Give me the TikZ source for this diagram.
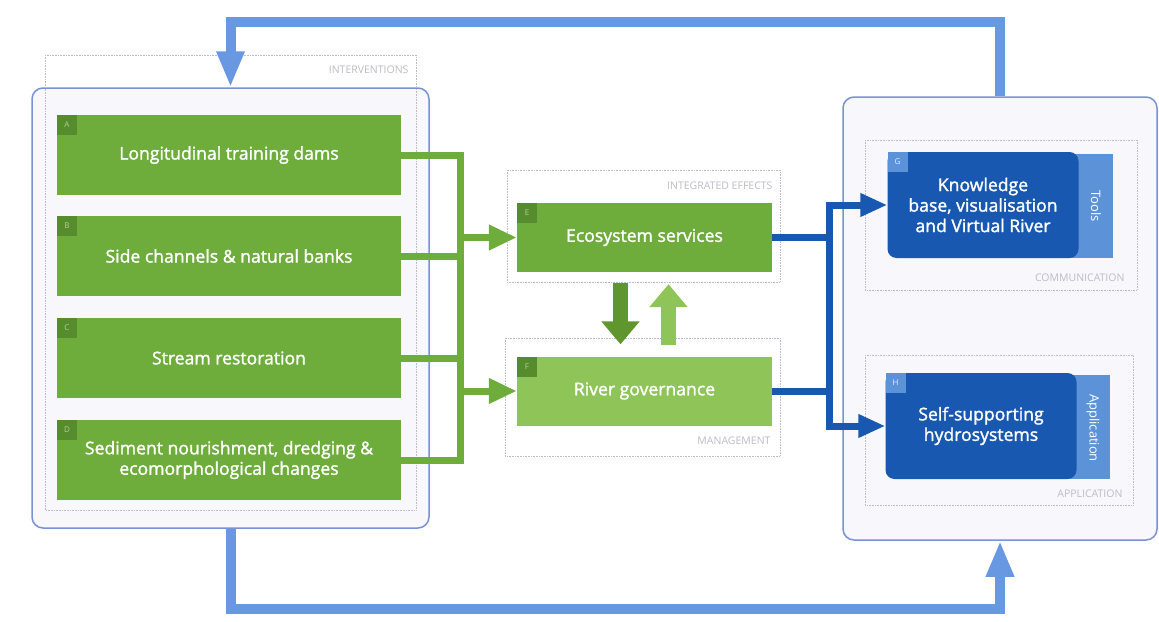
\documentclass[tikz,border=0pt]{standalone}
\usepackage{fontspec}
\setmainfont{Open Sans}
\newfontfamily\medfont{Open Sans}[FakeBold=1.6]
\usetikzlibrary{arrows.meta,positioning}
\definecolor{boxgreen}{RGB}{110,172,60}
\definecolor{lightgreen}{RGB}{142,196,88}
\definecolor{badgegreen}{RGB}{86,140,46}
\definecolor{darkgreen}{RGB}{96,150,46}
\definecolor{deepblue}{RGB}{24,88,176}
\definecolor{tabblue}{RGB}{92,146,216}
\definecolor{loopblue}{RGB}{104,152,226}
\definecolor{frameblue}{RGB}{120,146,214}
\definecolor{framefill}{RGB}{247,247,252}
\definecolor{faint}{RGB}{188,188,196}
\begin{document}
\begin{tikzpicture}[x=1pt,y=-1pt,line join=round,font=\medfont\fontsize{17.6}{20.5}\selectfont,
	greenbox/.style={fill=boxgreen,text=white,minimum width=344pt,minimum height=80pt,inner sep=0pt,align=center},
	midbox/.style={fill=boxgreen,text=white,minimum width=255pt,minimum height=69pt,inner sep=0pt},
	bluebox/.style={fill=deepblue,text=white,rounded corners=9pt,minimum width=191pt,minimum height=106pt,inner sep=0pt,align=center},
	tab/.style={fill=tabblue,minimum width=52pt,minimum height=104pt,inner sep=0pt},
	tabtext/.style={rotate=-90,text=white,font=\rmfamily\fontsize{13}{15}\selectfont},
	badge/.style={fill=badgegreen,text=boxgreen!55!white,minimum size=20pt,inner sep=0pt,anchor=north west,font=\rmfamily\fontsize{8}{9}\selectfont},
	frame/.style={draw=frameblue,line width=1.5pt,fill=framefill,rounded corners=11pt},
	group/.style={draw=faint,densely dotted,line width=.6pt},
	grouplabel/.style={text=faint,anchor=east,font=\rmfamily\fontsize{10.5}{12}\selectfont},
	gline/.style={draw=boxgreen,line width=7pt,line join=miter},
	garrow/.style={gline,-{Triangle[width=24pt,length=28pt]}},
	bline/.style={draw=deepblue,line width=7pt,line join=miter},
	barrow/.style={bline,-{Triangle[width=22pt,length=27pt]}},
	updown/.style={line width=15pt,-{Triangle[width=37pt,length=23pt]},shorten <=11pt,shorten >=12pt},
	feedback/.style={draw=loopblue,line width=10pt,line join=miter,-{Triangle[width=26pt,length=36pt]}}]
	\useasboundingbox (0,0) rectangle (1159,621);
	%khung ngoai
	\node[frame,minimum width=397pt,minimum height=440pt] (L) at (230.5,308) {};
	\node[frame,minimum width=314pt,minimum height=443pt] (R) at (1000,318.5) {};
	%nhom cham
	\draw[group] (45,55) rectangle (416,510);
	\draw[group] (507,170) rectangle (780,282);
	\draw[group] (505,338) rectangle (780,456);
	\draw[group] (865,140) rectangle (1137,290);
	\draw[group] (865,355) rectangle (1133,505);
	\foreach \t/\x/\y in {INTERVENTIONS/412/70,INTEGRATED EFFECTS/776/186,MANAGEMENT/774/441,COMMUNICATION/1128/278,APPLICATION/1126/494}{
		\node[grouplabel] at (\x,\y) {\t};}
	%cac hop xanh
	\foreach \n/\y/\txt in {A/155/Longitudinal training dams,B/256/Side channels \& natural banks,C/358/Stream restoration,D/460/{Sediment nourishment, dredging \&\\ecomorphological changes}}{
		\node[greenbox] (\n) at (229,\y) {\txt};
		\node[badge] at (\n.north west) {\n};}
	\node[midbox] (E) at (644.5,237.5) {Ecosystem services};
	\node[midbox,fill=lightgreen] (F) at (644.5,391) {River governance};
	\foreach \n in {E,F} \node[badge] at (\n.north west) {\n};
	%cac hop xanh duong
	\node[tab] (Gt) at (1087,206) {};
	\node[tabtext] at (1096,206) {Tools};
	\node[tab,minimum height=104pt] (Ht) at (1084,427) {};
	\node[tabtext] at (1093,428) {Application};
	\node[bluebox] (G) at (983,205) {Knowledge\\base, visualisation\\and Virtual River};
	\node[bluebox] (H) at (981,426) {Self-supporting\\hydrosystems};
	\foreach \n in {G,H} \node[badge,fill=tabblue,text=white!85!tabblue] at (\n.north west) {\n};
	%noi
	\coordinate (gsp) at (460,0);
	\coordinate (bsp) at (829,0);
	\draw[gline] (A.east) -| (gsp |- D.east) -- (D.east);
	\foreach \n in {B,C} \draw[gline] (\n.east) -- (\n.east -| gsp);
	\draw[garrow] (gsp |- E.west) -- (E.west);
	\draw[garrow] (gsp |- F.west) -- (F.west);
	\draw[updown,darkgreen] ([xshift=-24pt]E.south) -- ([xshift=-24pt]F.north);
	\draw[updown,lightgreen] ([xshift=24pt]F.north) -- ([xshift=24pt]E.south);
	\foreach \n in {E,F} \draw[bline] (\n.east) -- (\n.east -| bsp);
	\draw[barrow] (bsp |- H.west) |- (G.west);
	\draw[barrow] (bsp |- G.west) |- (H.west);
	%vong phan hoi
	\coordinate (top) at (0,22);
	\coordinate (bot) at (0,609);
	\draw[feedback] (R.north) |- (top -| L.north) -- (L.north);
	\draw[feedback] (L.south) |- (bot -| R.south) -- (R.south);
\end{tikzpicture}
\end{document}
